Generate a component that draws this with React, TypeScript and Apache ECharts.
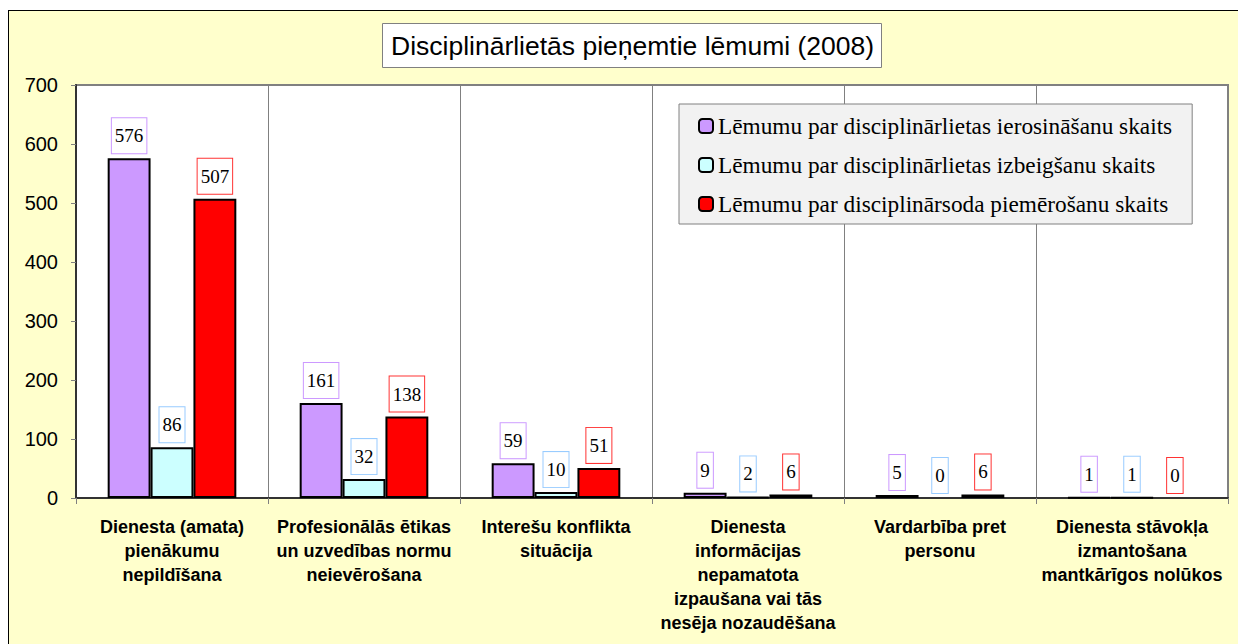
import React, { useEffect, useRef } from "react";
import * as echarts from "echarts";

const categories = [
  "Dienesta (amata)\npienākumu\nnepildīšana",
  "Profesionālās ētikas\nun uzvedības normu\nneievērošana",
  "Interešu konflikta\nsituācija",
  "Dienesta\ninformācijas\nnepamatota\nizpaušana vai tās\nnesēja nozaudēšana",
  "Vardarbība pret\npersonu",
  "Dienesta stāvokļa\nizmantošana\nmantkārīgos nolūkos",
];

const seriesNames = [
  "Lēmumu par disciplinārlietas ierosināšanu skaits",
  "Lēmumu par disciplinārlietas izbeigšanu skaits",
  "Lēmumu par disciplinārsoda piemērošanu skaits",
];

const initiated = [576, 161, 59, 9, 5, 1];
const terminated = [86, 32, 10, 2, 0, 1];
const penalties = [507, 138, 51, 6, 6, 0];

const seriesColors = ["#CC99FF", "#CCFFFF", "#FF0000"];
const labelBorders = ["#CC99FF", "#99CCFF", "#FF3333"];

const SANS = "'Liberation Sans', Arial, sans-serif";
const SERIF = "'Liberation Serif', 'Times New Roman', serif";

export default function App() {
  const ref = useRef<HTMLDivElement>(null);
  useEffect(() => {
    if (!ref.current) return;
    const chart = echarts.init(ref.current, null, { renderer: "svg" });
    const allData = [initiated, terminated, penalties];
    chart.setOption({
      animation: false,
      backgroundColor: "#FFFFCC",
      title: {
        text: "Disciplinārlietās pieņemtie lēmumi (2008)",
        left: 373,
        top: 12,
        padding: [8, 8, 8, 9],
        backgroundColor: "#FFFFFF",
        borderColor: "#808080",
        borderWidth: 1,
        textStyle: {
          fontFamily: SANS,
          fontSize: 26.5,
          fontWeight: "normal",
          color: "#000",
          lineHeight: 29,
        },
      },
      legend: {
        orient: "vertical",
        left: 670,
        top: 93,
        backgroundColor: "#F2F2F2",
        borderColor: "#808080",
        borderWidth: 1,
        padding: [10, 20, 8, 19],
        itemWidth: 14,
        itemHeight: 14,
        itemGap: 15,
        data: seriesNames,
        textStyle: {
          fontFamily: SERIF,
          fontSize: 23.3,
          lineHeight: 24,
          color: "#000",
        },
      },
      grid: {
        left: 67,
        top: 74,
        right: 21,
        bottom: 163,
        show: true,
        backgroundColor: "#FFFFFF",
        borderColor: "#808080",
        borderWidth: 2,
        containLabel: false,
      },
      xAxis: {
        type: "category",
        data: categories,
        axisLine: { show: true, lineStyle: { color: "#333333", width: 2 } },
        axisTick: { show: true, length: 6, lineStyle: { color: "#808080", width: 1 } },
        splitLine: { show: true, interval: 0, lineStyle: { color: "#808080", width: 1 } },
        axisLabel: {
          interval: 0,
          margin: 17,
          fontFamily: SANS,
          fontSize: 18,
          fontWeight: "bold",
          lineHeight: 24,
          color: "#000",
          align: "center",
        },
      },
      yAxis: {
        type: "value",
        min: 0,
        max: 700,
        interval: 100,
        axisLine: { show: true, lineStyle: { color: "#333333", width: 2 } },
        axisTick: { show: true, length: 5, lineStyle: { color: "#808080", width: 1 } },
        splitLine: { show: false },
        axisLabel: {
          margin: 18,
          fontFamily: SANS,
          fontSize: 20,
          color: "#000",
        },
      },
      series: allData.map((d, i) => ({
        name: seriesNames[i],
        type: "bar",
        barGap: "0%",
        barCategoryGap: "33%",
        data: d.map((v) =>
          v === 0 ? { value: v, itemStyle: { borderWidth: 0 } } : v
        ),
        itemStyle: {
          color: seriesColors[i],
          borderColor: "#000",
          borderWidth: 2,
        },
        label: {
          show: true,
          position: "top",
          distance: 5,
          fontFamily: SERIF,
          fontSize: 19,
          lineHeight: 19,
          color: "#000",
          backgroundColor: "#FFFFFF",
          borderColor: labelBorders[i],
          borderWidth: 1,
          padding: [8, 3, 8, 3],
        },
      })),
    });
    return () => chart.dispose();
  }, []);
  return (
    <div
      style={{
        position: "fixed",
        left: 8,
        top: 10,
        width: 1240,
        height: 650,
        borderLeft: "1px solid #000",
        borderTop: "1px solid #000",
        background: "#FFFFCC",
      }}
    >
      <div ref={ref} style={{ width: 1240, height: 650 }} />
    </div>
  );
}
